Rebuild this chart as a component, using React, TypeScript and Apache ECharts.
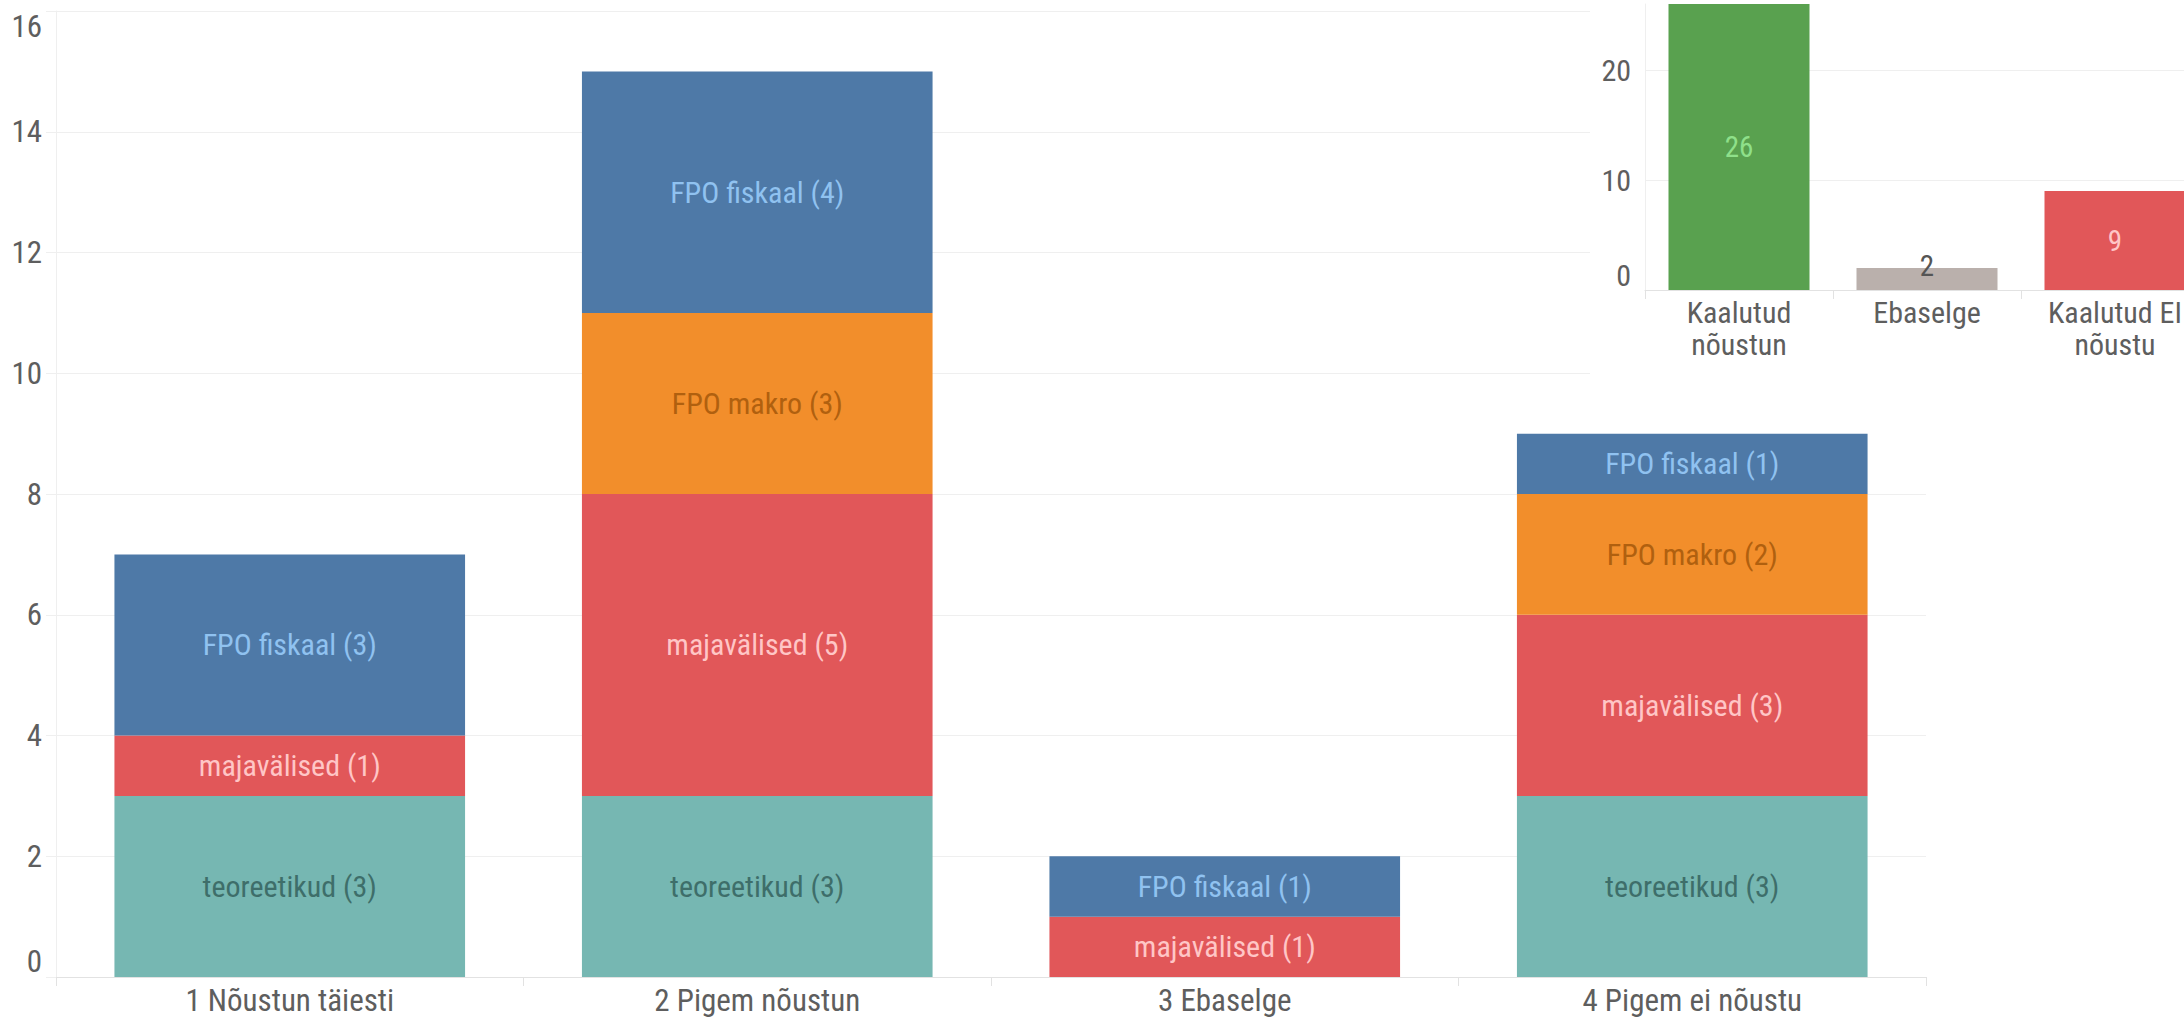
import React, { useEffect, useRef } from "react";
import * as echarts from "echarts";

const FONT = "'Roboto Condensed', 'Liberation Sans Narrow', 'DejaVu Sans Condensed', Roboto, sans-serif";

const categories = ["1 Nõustun täiesti", "2 Pigem nõustun", "3 Ebaselge", "4 Pigem ei nõustu"];
const teoreetikud = [3, 3, null, 3];
const majavalised = [1, 5, 1, 3];
const fpoMakro = [null, 3, null, 2];
const fpoFiskaal = [3, 4, 1, 1];

const seriesNames = ["teoreetikud", "majavälised", "FPO makro", "FPO fiskaal"];
const seriesColors = ["#76b7b2", "#e15759", "#f28e2b", "#4e79a7"];
const labelColors = ["#3e6e6a", "#ffc6c6", "#b0600f", "#90c2f0"];

const insetCategories = ["Kaalutud\nnõustun", "Ebaselge", "Kaalutud EI\nnõustu"];
const insetValues = [26, 2, 9];
const insetColors = ["#59a14f", "#bab0ac", "#e15759"];
const insetLabelColors = ["#8fe08a", "#555555", "#ffc6c6"];

const mainTicks = [0, 16];
const insetTicks = [0, 26];

const CANVAS_W = 2260;

export default function App() {
  const ref = useRef<HTMLDivElement>(null);
  useEffect(() => {
    document.body.style.margin = "0";
    const chart = echarts.init(ref.current!, null, { renderer: "svg" });
    const values = [teoreetikud, majavalised, fpoMakro, fpoFiskaal];
    const axisLabelColor = "#5e5e5e";
    const lineColor = "#e2e2e2";
    const gridColor = "#efefef";
    const option: any = {
      animation: false,
      backgroundColor: "#ffffff",
      textStyle: { fontFamily: FONT },
      grid: [
        { left: 56, top: 11, width: 1870, height: 966, containLabel: false },
        { left: 1645, top: 4, width: 564, height: 286, containLabel: false },
      ],
      xAxis: [
        {
          type: "category",
          gridIndex: 0,
          data: categories,
          axisLine: { show: true, lineStyle: { color: lineColor, width: 1 } },
          axisTick: { show: true, length: 9, lineStyle: { color: lineColor } },
          axisLabel: { color: axisLabelColor, fontSize: 31, fontFamily: FONT, margin: 8 },
          splitLine: { show: false },
        },
        {
          type: "category",
          gridIndex: 1,
          data: insetCategories,
          z: 10,
          axisLine: { show: true, lineStyle: { color: lineColor, width: 1 } },
          axisTick: { show: true, length: 9, lineStyle: { color: lineColor } },
          axisLabel: { color: axisLabelColor, fontSize: 30, fontFamily: FONT, margin: 6, lineHeight: 32, interval: 0 },
          splitLine: { show: false },
        },
      ],
      yAxis: [
        {
          type: "value",
          gridIndex: 0,
          min: mainTicks[0],
          max: mainTicks[1],
          interval: 2,
          axisLine: { show: true, lineStyle: { color: gridColor } },
          axisTick: { show: true, length: 10, lineStyle: { color: gridColor } },
          axisLabel: {
            color: axisLabelColor,
            fontSize: 31,
            fontFamily: FONT,
            margin: 14,
            verticalAlignMinLabel: "bottom",
            verticalAlignMaxLabel: "top",
          },
          splitLine: { show: true, lineStyle: { color: gridColor, width: 1 } },
        },
        {
          type: "value",
          gridIndex: 1,
          min: insetTicks[0],
          max: insetTicks[1],
          interval: 10,
          z: 10,
          axisLine: { show: true, lineStyle: { color: gridColor } },
          axisTick: { show: false },
          axisLabel: {
            color: axisLabelColor,
            fontSize: 30,
            fontFamily: FONT,
            margin: 14,
            verticalAlignMinLabel: "bottom",
            formatter: (v: number) => (v % 10 === 0 ? String(v) : ""),
          },
          splitLine: { show: true, showMaxLine: false, lineStyle: { color: gridColor, width: 1 } },
        },
      ],
      graphic: {
        elements: [
          {
            type: "rect",
            z: 5,
            shape: { x: 1590, y: 0, width: CANVAS_W - 1590, height: 388 },
            style: { fill: "#ffffff" },
            silent: true,
          },
        ],
      },
      series: [
        ...seriesNames.map((name, i) => ({
          type: "bar",
          name,
          stack: "total",
          xAxisIndex: 0,
          yAxisIndex: 0,
          barWidth: "75%",
          data: values[i],
          itemStyle: { color: seriesColors[i] },
          label: {
            show: true,
            position: "inside",
            color: labelColors[i],
            fontSize: 30,
            fontFamily: FONT,
            formatter: (p: any) => `${p.seriesName} (${p.value})`,
          },
        })),
        {
          type: "bar",
          name: "Kokku",
          xAxisIndex: 1,
          yAxisIndex: 1,
          z: 11,
          barWidth: "75%",
          data: insetValues.map((v, i) => ({
            value: v,
            itemStyle: { color: insetColors[i] },
            label:
              v < 5
                ? { position: "top", distance: -12, color: insetLabelColors[i] }
                : { position: "inside", color: insetLabelColors[i] },
          })),
          label: { show: true, fontSize: 29, fontFamily: FONT },
        },
      ],
    };
    chart.setOption(option);
    return () => chart.dispose();
  }, []);
  return (
    <div style={{ position: "absolute", left: 0, top: 0, width: 2184, height: 1020, overflow: "hidden" }}>
      <div ref={ref} style={{ width: CANVAS_W, height: 1020 }} />
    </div>
  );
}
